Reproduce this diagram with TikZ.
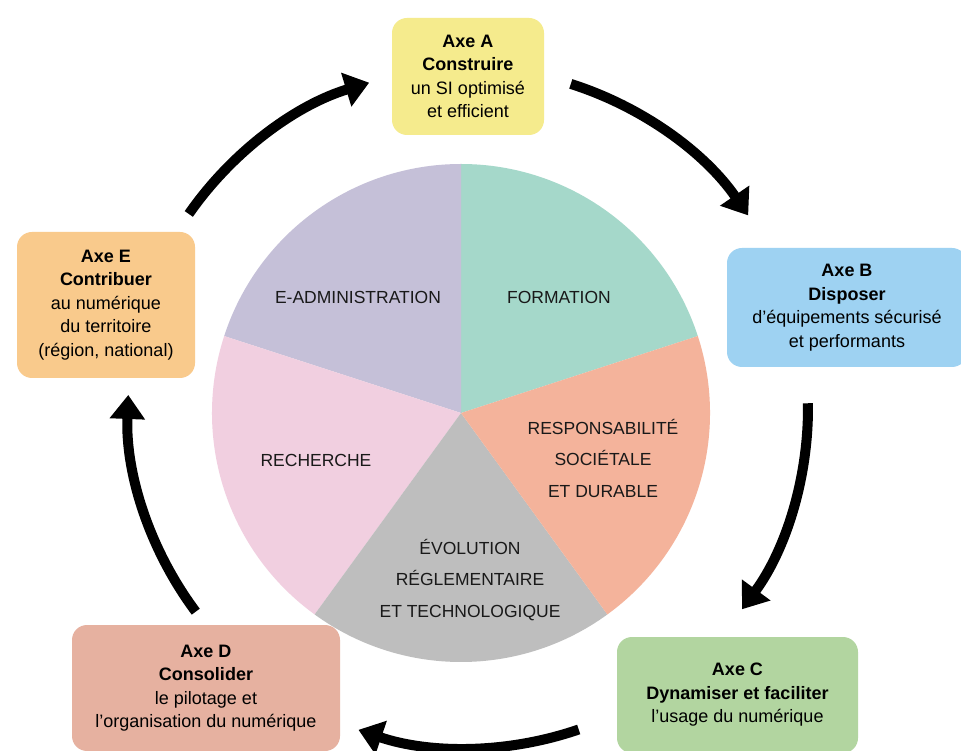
\documentclass[tikz,border=0pt]{standalone}
\usepackage{fontspec}
\setmainfont{Liberation Sans}
\usetikzlibrary{arrows.meta,calc}
\definecolor{cForm}{HTML}{A5D8CA}
\definecolor{cAdmin}{HTML}{C5C0D8}
\definecolor{cRech}{HTML}{F1CFE0}
\definecolor{cEvol}{HTML}{BEBEBE}
\definecolor{cResp}{HTML}{F4B39B}
\definecolor{cA}{HTML}{F5EB8D}
\definecolor{cB}{HTML}{9ED2F2}
\definecolor{cC}{HTML}{B2D5A0}
\definecolor{cD}{HTML}{E6B1A0}
\definecolor{cE}{HTML}{F9CA8C}
\begin{document}
\begin{tikzpicture}[x=1pt,y=1pt,
  axebox/.style={rectangle, rounded corners=15pt, align=center, inner sep=0pt, font=\fontsize{18}{23.5}\selectfont},
  pielabel/.style={align=center, text=black!90, font=\fontsize{17.5}{31.5}\selectfont},
  cyclearrow/.style={line width=10pt, -{Triangle[length=24pt,width=34pt]}}
]
\useasboundingbox (0,0) rectangle (961,750);
\clip (0,0) rectangle (961,750);
\fill[white] (0,0) rectangle (961,750);
% pie
\coordinate (pc) at (461,337);
\fill[cForm]  (pc) -- ++(18:249pt)  arc[start angle=18,  end angle=90,  radius=249pt] -- cycle;
\fill[cAdmin] (pc) -- ++(90:249pt)  arc[start angle=90,  end angle=162, radius=249pt] -- cycle;
\fill[cRech]  (pc) -- ++(162:249pt) arc[start angle=162, end angle=234, radius=249pt] -- cycle;
\fill[cEvol]  (pc) -- ++(234:249pt) arc[start angle=234, end angle=306, radius=249pt] -- cycle;
\fill[cResp]  (pc) -- ++(306:249pt) arc[start angle=306, end angle=378, radius=249pt] -- cycle;
\node[pielabel] (ladmin) at (358,453) {E-ADMINISTRATION};
\node[pielabel] (lform) at (559,453) {FORMATION};
\node[pielabel] (lresp) at (603,292) {RESPONSABILITÉ\\SOCIÉTALE\\ET DURABLE};
\node[pielabel] (lrech) at (316,290) {RECHERCHE};
\node[pielabel] (levol) at (470,170) {ÉVOLUTION\\RÉGLEMENTAIRE\\ET TECHNOLOGIQUE};
% boxes
\node[axebox, fill=cA, minimum width=152pt, minimum height=117pt] (A) at (468,673.5)
  {\textbf{Axe A}\\\textbf{Construire}\\un SI optimisé\\et efficient};
\node[axebox, fill=cB, minimum width=240pt, minimum height=119pt] (B) at (847,442.5)
  {\textbf{Axe B}\\\textbf{Disposer}\\d’équipements sécurisé\\et performants};
\node[axebox, fill=cC, minimum width=241pt, minimum height=116pt] (C) at (737.5,55)
  {\textbf{Axe C}\\\textbf{Dynamiser et faciliter}\\l’usage du numérique};
\node[axebox, fill=cD, minimum width=268pt, minimum height=126pt] (D) at (206,62)
  {\textbf{Axe D}\\\textbf{Consolider}\\le pilotage et\\l’organisation du numérique};
\node[axebox, fill=cE, minimum width=178pt, minimum height=146pt] (E) at (106,445)
  {\textbf{Axe E}\\\textbf{Contribuer}\\au numérique\\du territoire\\(région, national)};
% cycle arrows
\coordinate (ac) at (468,342);
\coordinate (EtoA) at ($(ac)+(145.2:340pt)$);
\coordinate (AtoB) at ($(ac)+(72.4:340pt)$);
\coordinate (BtoC) at ($(ac)+(0.8:340pt)$);
\coordinate (CtoD) at ($(ac)+(-71:340pt)$);
\coordinate (DtoE) at ($(ac)+(216.8:340pt)$);
\draw[cyclearrow] (EtoA) arc[start angle=145.2, end angle=106.9, radius=340pt];
\draw[cyclearrow] (AtoB) arc[start angle=72.4, end angle=34.5, radius=340pt];
\draw[cyclearrow] (BtoC) arc[start angle=0.8, end angle=-36.3, radius=340pt];
\draw[cyclearrow] (CtoD) arc[start angle=-71, end angle=-108.8, radius=340pt];
\draw[cyclearrow] (DtoE) arc[start angle=216.8, end angle=177.8, radius=340pt];
\end{tikzpicture}
\end{document}
